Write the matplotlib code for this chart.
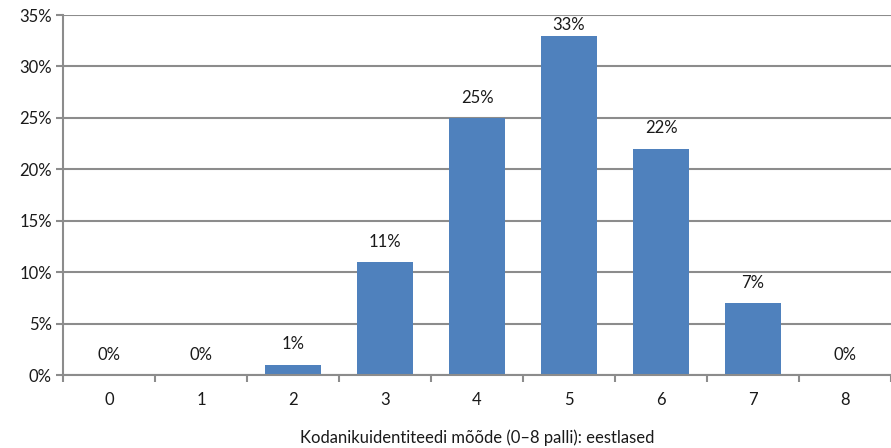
import matplotlib
matplotlib.use("Agg")
import matplotlib.pyplot as plt
from matplotlib.ticker import FixedLocator, PercentFormatter

categories = ["0", "1", "2", "3", "4", "5", "6", "7", "8"]
values = [0, 0, 1, 11, 25, 33, 22, 7, 0]
labels = ["0%", "0%", "1%", "11%", "25%", "33%", "22%", "7%", "0%"]
yticks = [0, 5, 10, 15, 20, 25, 30, 35]
xlabel = "Kodanikuidentiteedi mõõde (0–8 palli): eestlased"

plt.rcParams['font.family'] = ['Lato', 'DejaVu Sans']
grid_c = "#8c8c8c"
bar_c = "#4f81bd"
txt_c = "#1a1a1a"
fs = 12

fig = plt.figure(figsize=(8.91, 4.48), dpi=100)
ax = fig.add_axes([63/891, 1-375/448, 1-63/891, 360/448])

x = list(range(len(categories)))
ax.bar(x, values, width=0.6, color=bar_c, zorder=3)
ymax = 35
for xi, v, lab in zip(x, values, labels):
    ypos = min(v + 1.2, ymax - 1.75)
    ax.text(xi, ypos, lab, ha="center", va="bottom", fontsize=fs, color=txt_c, zorder=4)

ax.set_xlim(-0.5, 8.5)
ax.set_ylim(0, ymax)
ax.set_yticks(yticks)
ax.yaxis.set_major_formatter(PercentFormatter(decimals=0))
ax.set_xticks(x)
ax.set_xticklabels(categories)
ax.xaxis.set_minor_locator(FixedLocator([i - 0.5 for i in range(len(categories) + 1)]))
ax.tick_params(axis="x", which="major", length=0, pad=12, labelsize=fs, labelcolor=txt_c)
ax.tick_params(axis="x", which="minor", length=5, width=1.5, color=grid_c, direction="out")
ax.tick_params(axis="y", length=5, width=1.5, color=grid_c, labelsize=fs, labelcolor=txt_c, pad=3)

ax.grid(axis="y", color=grid_c, linewidth=1.5, zorder=0)
for s in ["top", "right"]:
    ax.spines[s].set_visible(False)
for s in ["left", "bottom"]:
    ax.spines[s].set_color(grid_c)
    ax.spines[s].set_linewidth(1.5)
    ax.spines[s].set_zorder(5)

ax.set_xlabel(xlabel, fontsize=fs, color=txt_c, labelpad=16)

fig.savefig("out.png", dpi=100)
